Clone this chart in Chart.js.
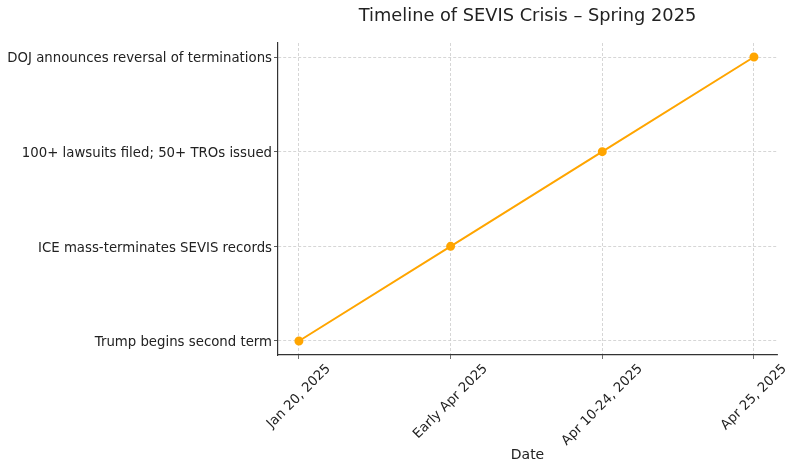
<!DOCTYPE html>
<html>
<head>
<meta charset="utf-8">
<script src="https://cdn.jsdelivr.net/npm/chart.js@4"></script>
<style>
  html, body { margin: 0; padding: 0; background: #fff; }
  #wrap { width: 797px; height: 471px; }
</style>
</head>
<body>
<div id="wrap"><canvas id="timeline"></canvas></div>
<script>
const dates = ['Jan 20, 2025', 'Early Apr 2025', 'Apr 10-24, 2025', 'Apr 25, 2025'];
const events = [
    'Trump begins second term',
    'ICE mass-terminates SEVIS records',
    '100+ lawsuits filed; 50+ TROs issued',
    'DOJ announces reversal of terminations'
];
const eventIndex = [0, 1, 2, 3];
const chartTitle = 'Timeline of SEVIS Crisis \u2013 Spring 2025';

const FONT = 'DejaVu Sans';
const TICK_SIZE = 13.3;

// title centred over the plot area, and x labels rotated about their centre
const extrasPlugin = {
    id: 'extras',
    afterDraw(chart) {
        const ctx = chart.ctx;
        const area = chart.chartArea;
        ctx.save();
        ctx.font = '17.8px "' + FONT + '"';
        ctx.fillStyle = '#222';
        ctx.textAlign = 'center';
        ctx.textBaseline = 'middle';
        ctx.fillText(chartTitle, (area.left + area.right) / 2, 16);

        const xs = chart.scales.x;
        ctx.font = TICK_SIZE + 'px "' + FONT + '"';
        const top = area.bottom + 7;
        dates.forEach((d, i) => {
            const px = xs.getPixelForValue(i);
            const w = ctx.measureText(d).width;
            const boxH = (w + TICK_SIZE) * Math.SQRT1_2;
            ctx.save();
            ctx.translate(px, top + boxH / 2);
            ctx.rotate(-Math.PI / 4);
            ctx.fillText(d, 0, 0);
            ctx.restore();
        });
        ctx.restore();
    }
};

const points = dates.map((d, i) => ({ x: i, y: eventIndex[i] }));

document.addEventListener('DOMContentLoaded', () => {
    const timeline = new Chart(document.getElementById('timeline'), {
        type: 'line',
        data: {
            datasets: [{
                data: points,
                borderColor: '#FFA500',
                backgroundColor: '#FFA500',
                borderWidth: 2,
                pointRadius: 3.5,
                pointHoverRadius: 3.5,
                fill: false,
                tension: 0
            }]
        },
        options: {
            responsive: true,
            maintainAspectRatio: false,
            animation: false,
            layout: { padding: { top: 43, right: 20, left: 0, bottom: 0 } },
            plugins: {
                legend: { display: false },
                title: { display: false },
                tooltip: { enabled: false }
            },
            scales: {
                x: {
                    type: 'linear',
                    min: -0.138,
                    max: 3.152,
                    afterBuildTicks: (axis) => { axis.ticks = dates.map((d, i) => ({ value: i })); },
                    afterFit: (axis) => { axis.height = 116; },
                    ticks: {
                        display: false,
                        autoSkip: false
                    },
                    grid: {
                        color: '#cccccc',
                        tickColor: '#333',
                        tickBorderDash: [1, 0],
                        tickLength: 4,
                        lineWidth: 0.8
                    },
                    border: { color: '#333', width: 1.2, dash: [3, 2] },
                    title: {
                        display: true,
                        text: 'Date',
                        color: '#222',
                        font: { family: FONT, size: 14 },
                        padding: { top: 4, bottom: 7 }
                    }
                },
                y: {
                    type: 'linear',
                    min: -0.148,
                    max: 3.148,
                    afterBuildTicks: (axis) => { axis.ticks = events.map((e, i) => ({ value: i })); },
                    afterFit: (axis) => { axis.width = 278; },
                    ticks: {
                        callback: (v) => events[v],
                        autoSkip: false,
                        padding: 2,
                        labelOffset: 2,
                        color: '#222',
                        font: { family: FONT, size: TICK_SIZE }
                    },
                    grid: {
                        color: '#cccccc',
                        tickColor: '#333',
                        tickBorderDash: [1, 0],
                        tickLength: 4,
                        lineWidth: 0.8
                    },
                    border: { color: '#333', width: 1.2, dash: [3, 2] }
                }
            }
        },
        plugins: [extrasPlugin]
    });
});
</script>
</body>
</html>
